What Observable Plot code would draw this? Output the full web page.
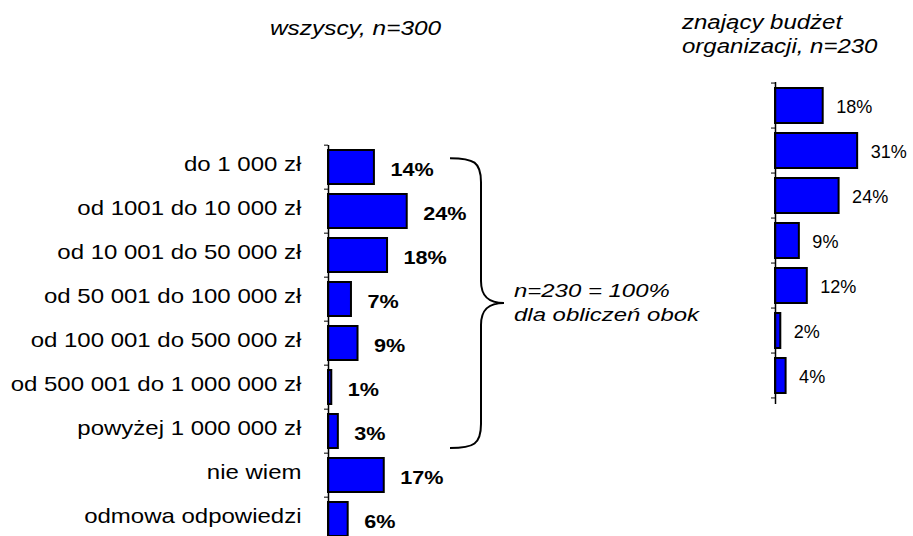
<!DOCTYPE html>
<html>
<head>
<meta charset="utf-8">
<script src="https://cdn.jsdelivr.net/npm/d3@7"></script>
<script src="https://cdn.jsdelivr.net/npm/@observablehq/plot@0.6"></script>
<style>
html, body { margin: 0; padding: 0; background: #fff; }
#chart { position: relative; width: 913px; height: 536px; overflow: hidden; font-family: "Liberation Sans", Arial, sans-serif; background: #fff; }
#chart svg { position: absolute; left: 0; top: 0; }
.note { position: absolute; font-style: italic; color: #000; white-space: nowrap; transform-origin: 0 0; }
</style>
</head>
<body>
<div id="chart"></div>
<script>
// ---- data ----
const categories = [
  "do 1 000 zł",
  "od 1001 do 10 000 zł",
  "od 10 001 do 50 000 zł",
  "od 50 001 do 100 000 zł",
  "od 100 001 do 500 000 zł",
  "od 500 001 do 1 000 000 zł",
  "powyżej 1 000 000 zł",
  "nie wiem",
  "odmowa odpowiedzi"
];
const valuesAll = [14, 24, 18, 7, 9, 1, 3, 17, 6];
const categoriesKnown = categories.slice(0, 7);
const valuesKnown = [18, 31, 24, 9, 12, 2, 4];
const titleAll = ["wszyscy, n=300"];
const titleKnown = ["znający budżet", "organizacji, n=230"];
const braceNote = ["n=230 = 100%", "dla obliczeń obok"];

const dataAll = categories.map((c, i) => ({cat: c, value: valuesAll[i]}));
const dataKnown = categoriesKnown.map((c, i) => ({cat: c, value: valuesKnown[i]}));

const W = 913, H = 536;
const chart = document.getElementById("chart");
const svgStyle = {background: "transparent", overflow: "visible", fontFamily: "'Liberation Sans', Arial, sans-serif"};

// ---- left chart ----
const leftPlot = Plot.plot({
  width: W, height: H,
  marginTop: 145, marginBottom: 0, marginLeft: 328, marginRight: 0,
  style: svgStyle,
  x: {domain: [0, 100], range: [328, 328 + 328], axis: null},
  y: {domain: categories, range: [145, 542], paddingInner: 0.22, paddingOuter: 0.11, axis: null},
  marks: [
    Plot.barX(dataAll, {x: "value", y: "cat", fill: "#0000ff", stroke: "#000", strokeWidth: 2}),
    Plot.ruleX([0], {stroke: "#000", strokeWidth: 1.5}),
    Plot.text(dataAll, {x: 0, y: "cat", text: "cat", textAnchor: "end", dx: -27, dy: -3,
      fontSize: 20, fill: "#000", ariaLabel: d => "label: " + d.cat}),
    Plot.text(dataAll, {x: "value", y: "cat", text: d => d.value + "%", textAnchor: "start", dx: 16, dy: 3,
      fontSize: 18, fontWeight: "bold", fill: "#000", ariaLabel: d => "value: " + d.value})
  ]
});

// ---- right chart ----
const rightPlot = Plot.plot({
  width: W, height: H,
  marginTop: 82, marginBottom: H - 404, marginLeft: 775, marginRight: 0,
  style: svgStyle,
  x: {domain: [0, 100], range: [775, 775 + 265], axis: null},
  y: {domain: categoriesKnown, range: [82, 400], paddingInner: 0.22, paddingOuter: 0.11, axis: null},
  marks: [
    Plot.barX(dataKnown, {x: "value", y: "cat", fill: "#0000ff", stroke: "#000", strokeWidth: 2}),
    Plot.ruleX([0], {stroke: "#000", strokeWidth: 1.5}),
    Plot.text(dataKnown, {x: "value", y: "cat", text: d => d.value + "%", textAnchor: "start", dx: 13, dy: 1,
      fontSize: 19, fill: "#000", ariaLabel: d => "value: " + d.value})
  ]
});

chart.appendChild(leftPlot);
chart.appendChild(rightPlot);

// horizontal stretch of text around its anchor (the source image is widened)
function stretchText(svg, prefix, s, side) {
  const ns = "http://www.w3.org/2000/svg";
  svg.querySelectorAll(`text[aria-label^="${prefix}"]`).forEach(t => {
    const parent = t.parentNode;
    const rect = t.getBoundingClientRect();
    const pt = svg.createSVGPoint();
    pt.x = side === "end" ? rect.right : rect.left;
    pt.y = rect.top;
    const p = pt.matrixTransform(parent.getScreenCTM().inverse());
    const ax = p.x;
    const g = document.createElementNS(ns, "g");
    g.setAttribute("transform", `translate(${ax},0) scale(${s},1) translate(${-ax},0)`);
    parent.insertBefore(g, t);
    g.appendChild(t);
  });
}
stretchText(leftPlot, "label:", 1.2, "end");
stretchText(leftPlot, "value:", 1.2, "start");
stretchText(rightPlot, "value:", 0.95, "start");

// band helpers using the plot's own scales
function bandInfo(plot, n) {
  const ys = plot.scale("y");
  const pi = ys.paddingInner ?? 0.22, po = ys.paddingOuter ?? 0.11;
  const r = ys.range;
  const step = ys.step ?? (r[1] - r[0]) / (n - pi + 2 * po);
  const bw = ys.bandwidth ?? step * (1 - pi);
  return {ys, step, bw, pi};
}

// axis tick marks at category boundaries
function addTicks(plot, cats) {
  const {ys, step, pi, bw} = bandInfo(plot, cats.length);
  const x0 = plot.scale("x").apply(0);
  const ticks = cats.map(c => ys.apply(c) - step * pi / 2);
  ticks.push(ys.apply(cats[cats.length - 1]) + bw + step * pi / 2);
  d3.select(plot).append("g").attr("aria-label", "category ticks")
    .selectAll("line").data(ticks).join("line")
    .attr("x1", x0 - 4).attr("x2", x0).attr("y1", d => d).attr("y2", d => d)
    .attr("stroke", "#000").attr("stroke-width", 1);
}
addTicks(leftPlot, categories);
addTicks(rightPlot, categoriesKnown);

// curly brace grouping the categories with a known budget
(function addBrace() {
  const {ys, bw} = bandInfo(leftPlot, categories.length);
  const xs = leftPlot.scale("x");
  const x0 = xs.apply(0);
  const yTop = ys.apply(categoriesKnown[0]) + bw * 0.24;
  const yBot = ys.apply(categoriesKnown[categoriesKnown.length - 1]) + bw;
  const yMid = (yTop + yBot) / 2;
  const tip = x0 + 122, lx = x0 + 153, pt = x0 + 176;
  const d = `M${tip},${yTop} C${tip + 24},${yTop} ${lx},${yTop + 4} ${lx},${yTop + 24}
    L${lx},${yMid - 22} C${lx},${yMid - 6} ${lx + 8},${yMid} ${pt},${yMid}
    C${lx + 8},${yMid} ${lx},${yMid + 6} ${lx},${yMid + 22}
    L${lx},${yBot - 24} C${lx},${yBot - 4} ${tip + 24},${yBot} ${tip},${yBot}`;
  d3.select(leftPlot).append("path").attr("d", d)
    .attr("fill", "none").attr("stroke", "#000").attr("stroke-width", 2);
})();

// titles and note (real text)
function addNote(lines, left, top, size, lh, s) {
  const div = document.createElement("div");
  div.className = "note";
  div.style.left = left + "px";
  div.style.top = top + "px";
  div.style.fontSize = size + "px";
  div.style.lineHeight = lh + "px";
  div.style.transform = `scaleX(${s})`;
  div.innerHTML = lines.map(l => `<div>${l}</div>`).join("");
  chart.appendChild(div);
}
addNote(titleAll, 270, 16, 20, 24, 1.22);
addNote(titleKnown, 682, 10, 20, 24, 1.2);
addNote(braceNote, 514, 279, 18, 24, 1.33);
</script>
</body>
</html>
